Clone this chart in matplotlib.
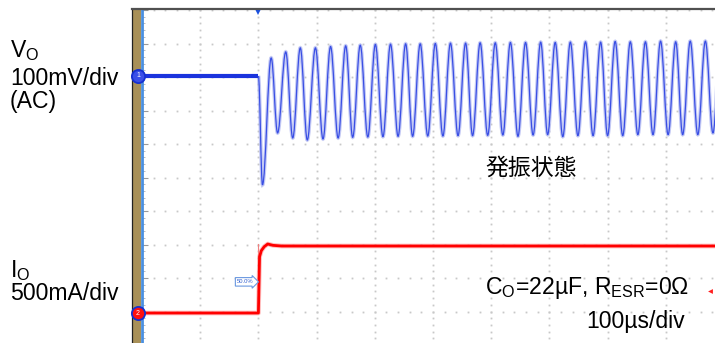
import matplotlib
matplotlib.use("Agg")
import matplotlib.pyplot as plt
from matplotlib.path import Path
from matplotlib.patches import PathPatch, Rectangle
from matplotlib.lines import Line2D

plt.rcParams['font.family'] = ['Liberation Sans', 'Noto Sans CJK JP', 'DejaVu Sans']
plt.rcParams['mathtext.fontset'] = 'custom'
plt.rcParams['mathtext.rm'] = 'Liberation Sans'

# scope settings
T_DIV_US = 100      # 100us/div
V_DIV_MV = 100      # 100mV/div
I_DIV_A = 0.5       # 500mA/div
V_POS = 8.03        # ch1 ground marker (div)
I_POS = 0.955       # ch2 ground marker (div)

# Vo before the load step
vo_pre_t_us = [-200, 0]
vo_pre_mv = [0, 0]
# Vo oscillation after the step: troughs and peaks
vo_trough_t_us = [7, 33, 59, 84, 111, 137, 162, 188, 214, 240, 265, 291, 317, 343, 368, 394,
                  420, 446, 472, 497, 523, 549, 575, 600, 626, 652, 678, 704, 729, 755, 781]
vo_trough_mv = [-325, -170, -185, -191, -188, -185, -183, -182, -181, -180, -180, -179, -179, -178, -178, -177,
                -176, -180, -176, -175, -181, -178, -178, -178, -178, -175, -175, -175, -175, -175, -170]
vo_peak_t_us = [22, 47, 72, 98, 124, 150, 175, 201, 227, 253, 278, 304, 330, 356, 381, 407,
                433, 459, 485, 510, 536, 562, 588, 613, 639, 665, 691, 717, 742, 768, 794]
vo_peak_mv = [54, 72, 84, 84, 88, 90, 92, 94, 95, 96, 96, 97, 98, 98, 99, 99,
              100, 100, 101, 100, 101, 102, 101, 103, 102, 102, 104, 102, 104, 104, 104]

# Io load step
io_t_us = [-200, 0, 2, 5, 10, 16, 25, 40, 800]
io_a = [0, 0, 0.84, 0.93, 0.99, 1.03, 1.01, 1.00, 1.00]
io_edge_a = 1.03

W, H = 715, 343
fig = plt.figure(figsize=(W / 100, H / 100), dpi=100)
fig.patch.set_facecolor('white')

# graticule: 10 x 10 div, x0=142px, 58.2px/div ; y top=10px, 33.5px/div
ax = fig.add_axes([142 / W, (H - 345) / H, 582 / W, 335 / H])
ax.set_xlim(-2 * T_DIV_US, 8 * T_DIV_US)
ax.set_ylim(0, 10)
ax.set_facecolor('white')


def vdiv(mv):
    return V_POS + mv / V_DIV_MV


def idiv(a):
    return I_POS + a / I_DIV_A


# dotted grid
gx, gy = [], []
for k in range(11):
    for m in range(51):
        gx.append(k * T_DIV_US - 200)
        gy.append(m * 0.2)
        gx.append(m * 0.2 * T_DIV_US - 200)
        gy.append(k)
ax.plot(gx, gy, ls='none', marker='s', ms=1.3, mew=0, color='#c8c8c8', zorder=1)

for s in ['top', 'right', 'bottom']:
    ax.spines[s].set_visible(False)
ax.spines['left'].set_color('#4a8fe0')
ax.spines['left'].set_linewidth(2.0)
ax.set_xticks([])
ax.set_yticks([k for k in range(11)])
ax.set_yticks([m * 0.2 for m in range(51)], minor=True)
ax.tick_params(axis='y', which='major', direction='in', length=4, width=0.8, color='#9a9a9a', labelleft=False)
ax.tick_params(axis='y', which='minor', direction='in', length=2.5, width=0.6, color='#b0b0b0')

# Vo trace: smooth curve through the extrema
pts = [(vo_pre_t_us[-1], vdiv(vo_pre_mv[-1]))]
for tt, vt, tp, vp in zip(vo_trough_t_us, vo_trough_mv, vo_peak_t_us, vo_peak_mv):
    pts.append((tt, vdiv(vt)))
    pts.append((tp, vdiv(vp)))
verts, codes = [pts[0]], [Path.MOVETO]
k = 0.3634
for (x0, y0), (x1, y1) in zip(pts[:-1], pts[1:]):
    d = x1 - x0
    verts += [(x0 + k * d, y0), (x1 - k * d, y1), (x1, y1)]
    codes += [Path.CURVE4] * 3
vpath = Path(verts, codes)
ax.add_patch(PathPatch(vpath, fc='none', ec='#aab2f0', lw=2.6, alpha=0.7, zorder=3))
ax.add_patch(PathPatch(vpath, fc='none', ec='#3a4fe4', lw=0.9, zorder=4))
ax.plot(vo_pre_t_us, [vdiv(v) for v in vo_pre_mv], color='#1a33dd', lw=3.0,
        solid_capstyle='butt', zorder=4)

# Io trace
ax.plot([0, 0], [idiv(0), idiv(io_edge_a)], color='#f08080', lw=0.8, zorder=3)
ax.plot(io_t_us, [idiv(a) for a in io_a], color='#ff8080', lw=3.4, alpha=0.5, zorder=3)
ax.plot(io_t_us, [idiv(a) for a in io_a], color='#ff0000', lw=2.0, zorder=4)

# channel markers
for y, fc, lab in [(vdiv(0), '#3a4fe8', '1'), (idiv(0), '#ff1010', '2')]:
    ax.plot([-207], [y], marker='o', ms=9.5, mfc=fc, mec='#1530d0', mew=1.3,
            clip_on=False, zorder=6)
    ax.text(-207, y, lab, color='white', fontsize=5, ha='center', va='center',
            clip_on=False, zorder=7)

# trigger marker (top) and trigger level tag
ax.plot([0], [9.93], marker='v', ms=5, color='#1a50e0', mew=0, clip_on=False, zorder=6)
ax.text(-8, idiv(io_edge_a / 2) - 0.1, '50.0%', fontsize=4.2, color='#3060d0',
        ha='right', va='center', zorder=6,
        bbox=dict(boxstyle='rarrow,pad=0.3', fc='white', ec='#6a98e0', lw=0.8))
ax.plot([776], [1.61], marker='<', ms=3.5, color='#ff2020', mew=0, zorder=6)

# bezel: brown strip, black edge and top border
fig.add_artist(Rectangle((132.5 / W, 0), 8 / W, (H - 9) / H, transform=fig.transFigure,
                         fc='#a89058', ec='none', zorder=-1))
fig.add_artist(Line2D([132 / W, 132 / W], [0, (H - 9) / H], transform=fig.transFigure,
                      color='#222222', lw=0.9, zorder=-1))
fig.add_artist(Line2D([132 / W, 1], [(H - 8.7) / H, (H - 8.7) / H], transform=fig.transFigure,
                      color='#505050', lw=1.6, zorder=6))


def label(x, y, s, **kw):
    fig.text(x / W, 1 - y / H, s, ha='left', va='baseline', color='black', **kw)


fs = 16.6
label(10, 57, r'V$_\mathregular{O}$', fontsize=fs)
label(10, 85, '100mV/div', fontsize=fs)
label(10, 108, '(AC)', fontsize=fs)
label(10, 277, r'I$_\mathregular{O}$', fontsize=fs)
label(10, 300, '500mA/div', fontsize=fs)

fig.text(485 / W, 1 - 168 / H, '発振状態', fontsize=16.5, ha='left', va='center',
         family=['Noto Sans CJK JP', 'DejaVu Sans'])
label(485, 294, r'C$_\mathregular{O}$=22µF, R$_\mathregular{ESR}$=0Ω', fontsize=fs)
label(586, 328, '100µs/div', fontsize=fs)

fig.savefig('out.png', dpi=100)
